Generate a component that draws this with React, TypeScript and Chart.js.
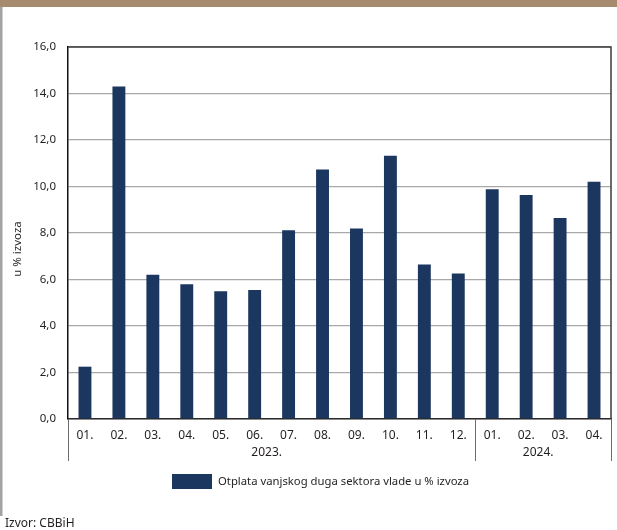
import React, { useEffect, useRef } from "react";
import { Chart, registerables } from "chart.js";

Chart.register(...registerables);

const months: string[] = ["01.", "02.", "03.", "04.", "05.", "06.", "07.", "08.", "09.", "10.", "11.", "12.", "01.", "02.", "03.", "04."];
const values: number[] = [2.25, 14.3, 6.2, 5.8, 5.5, 5.55, 8.12, 10.73, 8.19, 11.32, 6.65, 6.26, 9.88, 9.63, 8.65, 10.2];
const years: string[] = ["2023.", "2024."];
const yearCounts: number[] = [12, 4];
const seriesLabel = "Otplata vanjskog duga sektora vlade u % izvoza";
const yTitle = "u % izvoza";
const sourceText = "Izvor: CBBiH";

const FONT = "'Noto Sans', sans-serif";
const BAR = "#1b365f";

const decor = {
  id: "decor",
  beforeDraw(chart: any) {
    const ctx = chart.ctx;
    ctx.save();
    ctx.fillStyle = "#ffffff";
    ctx.fillRect(0, 0, chart.width, chart.height);
    ctx.restore();
  },
  afterDraw(chart: any) {
    const ctx = chart.ctx;
    const area = chart.chartArea;
    const x = chart.scales.x;
    ctx.save();
    // top band
    ctx.fillStyle = "#a68b6e";
    ctx.fillRect(0, 0, chart.width, 7);
    // left gray rule
    ctx.fillStyle = "#a3a3a3";
    ctx.fillRect(0, 7, 2.5, 509);
    // frame top & right
    ctx.strokeStyle = "#3a3a3a";
    ctx.lineWidth = 1.5;
    ctx.beginPath();
    ctx.moveTo(area.left, area.top);
    ctx.lineTo(area.right, area.top);
    ctx.lineTo(area.right, area.bottom);
    ctx.stroke();
    // group separators and year labels
    ctx.strokeStyle = "#6b6b6b";
    ctx.lineWidth = 1;
    const step = (x.getPixelForValue(1) - x.getPixelForValue(0));
    let start = 0;
    ctx.font = `12px ${FONT}`;
    ctx.fillStyle = "#231f20";
    ctx.textAlign = "center";
    ctx.textBaseline = "middle";
    const edges: number[] = [x.getPixelForValue(0) - step / 2];
    years.forEach((yr, i) => {
      const end = start + yearCounts[i];
      const l = x.getPixelForValue(start) - step / 2;
      const r = x.getPixelForValue(end - 1) + step / 2;
      edges.push(r);
      ctx.fillText(yr, (l + r) / 2 - 5, 453);
      start = end;
    });
    edges.forEach((e) => {
      const px = Math.round(e) + 0.5;
      ctx.beginPath();
      ctx.moveTo(px, area.bottom);
      ctx.lineTo(px, 461);
      ctx.stroke();
    });
    // y title
    ctx.save();
    ctx.translate(17.5, 249);
    ctx.rotate(-Math.PI / 2);
    ctx.font = `11.5px ${FONT}`;
    ctx.fillText(yTitle, 0, 0);
    ctx.restore();
    // legend
    const ds = chart.data.datasets[0];
    ctx.fillStyle = ds.backgroundColor;
    ctx.fillRect(172, 474, 40, 15);
    ctx.fillStyle = "#231f20";
    ctx.textAlign = "left";
    ctx.font = `11.3px ${FONT}`;
    ctx.fillText(ds.label, 218, 482);
    // source
    ctx.font = `12px ${FONT}`;
    ctx.fillText(sourceText, 5, 524);
    ctx.restore();
  },
};

export default function App() {
  const ref = useRef<HTMLCanvasElement | null>(null);
  useEffect(() => {
    document.body.style.margin = "0";
    const canvas = ref.current;
    if (!canvas) return;
    const chart = new Chart(canvas, {
      type: "bar",
      data: {
        labels: months,
        datasets: [
          {
            label: seriesLabel,
            data: values,
            backgroundColor: BAR,
            borderWidth: 0,
            categoryPercentage: 1,
            barPercentage: 0.38,
          },
        ],
      },
      options: {
        responsive: false,
        animation: false,
        layout: { padding: { left: 0, top: 47, right: 6, bottom: 0 } },
        plugins: {
          legend: { display: false },
          tooltip: { enabled: false },
        },
        scales: {
          x: {
            grid: { display: false, drawTicks: false },
            border: { display: true, color: "#2a2a2a", width: 1.5 },
            ticks: {
              font: { family: FONT, size: 12 },
              color: "#231f20",
              padding: 9,
              maxRotation: 0,
              autoSkip: false,
            },
            afterFit: (s: any) => {
              s.height = 111;
            },
          },
          y: {
            min: 0,
            max: 16,
            ticks: {
              stepSize: 2,
              font: { family: FONT, size: 11.5 },
              color: "#231f20",
              padding: 12,
              callback: (v: any) => Number(v).toFixed(1).replace(".", ","),
            },
            grid: { color: "#a8a8a8", lineWidth: 1.3, drawTicks: false },
            border: { display: true, color: "#111111", width: 1.5 },
            afterFit: (s: any) => {
              s.width = 68;
            },
          },
        },
      },
      plugins: [decor],
    });
    return () => chart.destroy();
  }, []);
  return (
    <div style={{ position: "absolute", left: 0, top: 0, width: 617, height: 530 }}>
      <canvas ref={ref} width={617} height={530} style={{ width: 617, height: 530 }} />
    </div>
  );
}
